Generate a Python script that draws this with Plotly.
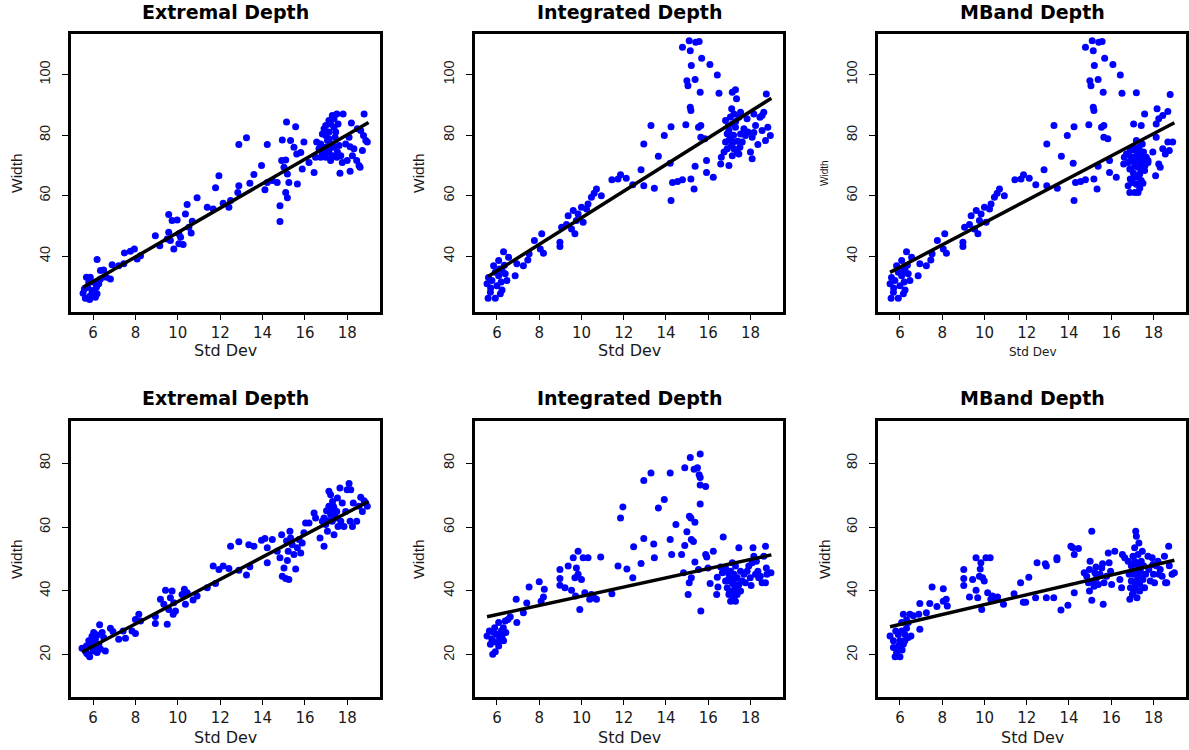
import plotly.graph_objects as go

# ---------------- data ----------------
# Top-left: Extremal Depth (row 1)
ext1_x = [5.64,5.84,5.53,5.75,5.95,6.19,6.11,5.87,5.69,6.03,
          6.27,6.35,6.50,6.19,6.35,6.16,5.80,5.59,5.87,6.08,
          6.63,6.82,6.90,7.21,7.45,7.48,7.76,7.95,8.08,8.24,
          8.94,9.15,9.57,9.50,9.65,9.81,9.57,9.73,9.97,10.05,
          10.13,10.05,10.25,10.36,10.44,10.52,10.63,10.68,10.91,11.39,
          11.67,11.94,11.78,12.14,12.41,12.49,12.83,12.88,12.88,13.24,
          13.40,13.59,13.95,14.11,14.22,14.22,14.46,14.69,14.82,14.82,
          14.90,14.93,15.01,15.09,15.13,15.17,15.09,15.17,15.24,15.32,
          15.48,15.56,15.61,15.64,15.80,15.95,15.87,16.19,16.43,16.50,
          16.55,16.74,16.82,16.90,16.98,17.06,17.13,17.21,17.29,17.37,
          17.42,17.50,17.13,17.21,17.29,17.37,17.50,16.90,16.74,17.56,
          17.61,17.65,17.76,17.80,17.92,17.99,18.08,18.13,18.13,18.19,
          18.24,18.31,18.44,18.47,18.55,18.63,18.71,18.79,18.76,18.87,
          18.94,18.60,16.98,17.13,17.29,17.45,16.98,17.21,17.53,17.69,
          16.82,16.66,17.13,17.37,16.98]
ext1_y = [26.1,25.7,27.8,29.8,28.7,27.6,26.5,33.1,33.1,31.4,
          30.9,35.3,35.5,38.9,32.5,29.8,31.4,29.2,27.0,28.1,
          33.1,32.5,37.2,36.9,37.5,41.1,41.7,42.4,39.1,40.2,
          46.8,43.5,47.9,45.7,45.2,42.4,53.8,51.8,52.0,47.4,
          46.3,44.1,43.9,54.0,57.1,49.6,47.7,51.6,59.3,56.2,
          55.6,66.6,62.6,57.5,56.2,58.4,61.1,63.3,76.9,79.1,
          64.1,67.0,70.0,62.0,76.9,64.4,65.0,64.4,56.7,51.5,
          71.6,78.4,69.4,71.8,84.3,67.2,61.1,59.3,64.4,78.2,
          76.0,82.8,73.8,63.9,74.3,77.7,68.8,71.0,67.7,72.7,
          77.7,72.7,80.4,82.1,76.0,78.2,81.0,83.7,86.5,82.6,
          79.3,87.0,74.4,71.6,73.2,76.0,72.7,74.4,77.1,83.7,
          76.6,67.4,71.0,87.0,77.1,71.6,79.3,76.2,68.1,84.0,
          73.2,75.5,71.6,82.1,70.0,81.5,74.9,87.0,79.9,78.2,
          77.7,69.4,79.9,78.8,77.1,81.0,72.7,76.0,74.4,73.2,
          73.8,75.5,84.8,85.4,83.2]

# Row 1, Integrated & MBand share the points below Std Dev ~16.6
top_shared_x = [5.58,5.92,5.69,5.53,5.76,6.0,6.16,6.24,5.84,6.08,
                6.31,6.24,6.39,6.47,6.08,5.92,6.55,6.86,6.94,7.25,
                7.46,7.52,7.77,8.12,8.05,8.20,8.98,8.98,9.06,9.29,
                9.37,9.53,9.61,9.69,9.76,9.84,10.0,10.08,10.24,10.31,
                10.47,10.6,10.71,10.94,11.44,11.73,11.85,12.12,12.43,12.82,
                12.95,12.95,13.29,13.45,13.64,13.92,14.2,14.24,14.24,14.31,
                14.55,14.78,14.94,14.78,14.99,15.04,15.1,15.15,15.2,15.15,
                15.18,15.18,15.33,15.38,15.38,15.41,15.54,15.62,15.65,15.65,
                15.57,15.69,15.84,15.92,15.92,16.08,16.24,16.43,16.51,16.59,
                16.62,6.20,5.70,6.35,6.12,5.60]
top_shared_y = [26.1,26.1,28.1,30.9,32.0,30.3,27.6,28.9,36.9,38.6,
                41.5,35.3,34.2,32.0,33.6,34.7,39.7,33.6,37.5,36.9,
                38.8,40.8,45.2,47.4,42.4,41.0,44.6,43.2,49.6,50.5,
                53.4,49.0,55.1,47.4,51.8,54.0,56.2,51.2,55.6,57.3,
                59.5,60.8,62.2,60.0,65.3,65.5,66.9,65.8,63.6,68.6,
                63.3,77.1,83.2,62.5,73.0,79.9,70.7,82.8,58.4,64.4,
                64.7,65.3,83.4,109.0,98.0,96.3,111.2,107.9,103.0,89.2,
                88.1,65.5,62.2,98.4,69.7,110.7,82.6,94.2,83.2,79.3,
                110.9,105.4,78.8,71.6,67.7,103.3,66.1,99.9,93.8,70.5,
                72.7,31.5,29.5,37.0,35.8,33.0]

int1_tail_x = [16.82,16.98,17.06,16.98,17.11,17.14,17.29,17.34,17.22,17.37,
               17.45,17.14,17.29,17.45,17.53,17.61,17.53,16.82,16.90,16.75,
               17.22,17.14,17.69,17.76,17.84,17.88,18.0,18.08,18.08,18.16,
               18.24,18.35,18.45,18.55,18.63,18.71,18.75,18.82,18.94,18.55,
               18.16,17.0,17.2,17.4,17.1,16.9,17.3,17.5,17.2,17.05,
               16.95]
int1_tail_y = [84.8,81.5,79.3,70.0,88.7,94.2,95.0,92.0,75.5,74.4,
               73.8,73.2,82.6,85.9,80.4,77.7,87.6,77.7,75.5,74.4,
               87.0,83.7,82.1,79.9,85.4,81.0,74.4,72.2,79.3,87.0,
               83.2,76.9,85.9,81.5,87.6,78.2,93.6,82.6,79.9,86.5,
               80.9,78.5,80.0,78.0,76.5,80.5,84.5,76.0,77.8,86.0,
               83.0]

mb1_tail_x = [16.72,16.80,16.88,16.95,17.03,17.03,17.11,17.11,17.19,17.19,
              17.19,17.27,17.27,17.35,17.35,17.42,17.42,17.50,17.50,17.58,
              17.66,17.74,16.88,16.95,16.80,16.91,17.31,17.47,17.11,17.27,
              17.00,17.53,17.19,17.06,17.42,17.58,17.74,18.10,17.97,18.13,
              18.13,18.17,18.25,18.44,18.68,18.44,18.56,18.32,18.25,18.79,
              18.75,18.91,18.68,17.15,17.25,17.40,17.05,16.90,17.35,17.60,
              17.45]
mb1_tail_y = [73.8,63.3,61.1,68.8,76.0,71.6,66.1,61.1,78.2,73.2,
              63.8,61.1,69.4,70.5,67.2,74.4,65.0,64.1,71.6,68.3,
              72.7,71.6,68.8,72.7,71.0,74.9,76.0,77.1,70.0,66.1,
              64.4,74.4,94.0,83.7,83.2,87.0,71.0,66.6,74.4,79.3,
              83.7,88.7,85.4,86.5,87.8,75.5,73.8,69.4,70.5,93.4,
              74.9,77.7,77.7,75.0,72.0,69.0,67.5,65.5,62.5,70.0,
              72.5]

# Row 2: Extremal Depth
ext2_x = [5.48,5.64,5.75,5.84,5.91,6.03,6.11,6.00,6.19,6.27,
          6.31,6.43,6.35,6.50,6.58,5.80,5.69,6.11,6.82,6.94,
          7.21,7.42,7.53,7.84,8.00,8.00,8.16,8.24,8.94,8.94,
          9.18,9.42,9.34,9.50,9.57,9.65,9.73,9.78,9.81,9.89,
          10.20,10.31,10.36,10.44,10.72,10.91,11.39,11.67,11.78,11.94,
          12.14,12.41,12.49,12.88,12.88,13.24,13.35,13.40,13.59,13.95,
          14.11,14.22,14.22,14.46,14.69,14.82,14.90,14.93,15.01,15.09,
          15.13,15.17,15.21,15.24,15.29,15.32,15.40,15.48,15.56,15.64,
          15.72,15.80,15.87,15.95,16.03,16.19,16.43,16.50,16.71,16.82,
          16.90,17.02,17.13,17.21,17.13,17.21,17.29,17.34,17.37,17.45,
          17.50,17.56,17.65,17.69,17.76,16.90,16.98,17.06,17.37,17.53,
          17.92,17.99,18.08,18.13,18.16,18.24,18.28,18.44,18.55,18.63,
          18.71,18.79,18.87,18.94,17.84,5.95,6.20,5.70,6.05,17.25,
          17.40,17.10,17.30]
ext2_y = [22.1,21.2,20.2,19.4,23.1,27.0,24.9,21.2,20.7,23.3,
          29.4,27.0,21.8,25.4,21.2,24.4,22.8,22.8,28.3,27.3,
          24.9,27.5,25.2,27.5,26.7,31.1,32.7,30.6,32.0,29.8,
          37.4,40.2,35.8,29.6,34.2,37.9,40.0,32.7,36.3,33.7,
          38.9,40.5,35.8,39.4,37.2,38.4,41.0,47.8,42.3,46.7,
          47.8,47.0,54.0,55.4,46.5,45.0,54.5,47.6,54.0,55.9,
          56.4,48.8,53.5,56.1,52.4,50.4,57.6,44.6,47.2,43.9,
          55.6,49.5,52.4,43.6,58.7,56.6,54.5,51.4,46.9,53.5,
          56.1,51.9,55.0,58.2,61.3,61.3,64.4,62.8,56.6,61.8,
          54.0,65.1,71.2,70.1,66.5,63.9,61.8,66.5,57.6,62.8,
          64.9,60.2,72.2,61.8,67.5,62.8,60.8,58.7,66.0,69.1,
          64.9,71.7,73.6,61.8,71.7,60.2,67.5,61.8,66.5,69.3,
          64.9,68.2,67.5,66.5,60.2,25.8,26.2,20.5,23.8,65.5,
          63.5,62.0,68.0]

# Row 2: Integrated Depth
int2_x = [5.53,5.64,5.76,5.80,5.92,5.89,6.0,6.08,6.11,6.20,
          6.24,6.31,6.39,6.42,6.52,5.69,6.08,5.84,6.63,6.91,
          6.94,7.25,7.41,7.52,8.0,8.09,8.20,8.24,8.98,8.98,
          8.98,9.22,9.37,9.53,9.61,9.69,9.72,9.76,9.84,9.84,
          9.92,10.0,10.08,10.16,10.31,10.39,10.47,10.60,10.71,10.91,
          11.44,11.73,11.85,11.96,12.15,12.43,12.47,12.82,12.95,12.95,
          13.29,13.42,13.45,13.64,13.92,14.20,14.20,14.27,14.47,14.74,
          14.83,14.89,14.89,14.99,15.05,15.10,15.11,15.15,15.18,15.20,
          15.20,15.30,15.33,15.37,15.37,15.49,15.54,15.57,15.62,15.62,
          15.62,15.62,15.65,15.88,15.88,15.93,15.99,16.09,16.24,16.40,
          16.43,16.46,16.71,16.59,16.67,16.82,16.90,16.98,16.98,17.06,
          17.06,17.14,17.14,17.22,17.22,17.29,17.29,17.37,17.37,17.45,
          17.45,17.53,17.53,17.61,17.69,17.76,16.90,17.22,17.06,16.82,
          17.29,17.84,17.92,17.99,18.03,18.12,18.16,18.24,18.28,18.35,
          18.39,18.47,18.55,18.63,18.71,18.75,18.78,18.71,18.97,18.08,
          17.0,17.15,17.3,17.1,17.4,16.95,17.25,6.1,5.95,6.3]
int2_y = [25.9,27.5,24.9,20.2,21.0,28.5,26.4,30.1,24.4,27.5,
          25.4,24.4,30.6,27.0,31.1,23.3,22.8,27.0,31.9,37.4,
          30.1,33.2,36.2,41.2,42.9,36.8,38.1,40.5,46.7,43.9,
          41.8,41.0,47.8,40.2,50.4,44.1,38.4,47.2,52.4,45.2,
          34.2,43.6,50.4,39.4,50.4,37.4,38.9,37.9,37.4,50.6,
          39.1,47.8,62.8,66.3,46.9,44.1,53.8,48.6,56.4,74.6,
          76.9,54.7,50.4,66.0,68.6,56.1,76.9,51.4,60.8,51.4,
          45.7,54.2,78.6,58.5,38.9,42.6,63.4,81.8,62.8,56.1,
          44.1,55.5,78.1,49.1,61.5,78.6,46.7,76.4,75.5,73.2,
          67.2,82.9,33.7,72.7,51.4,50.6,47.2,42.3,52.4,38.9,
          44.3,41.2,56.9,47.5,45.7,47.2,41.0,38.9,45.2,36.8,
          43.1,48.8,40.0,37.9,45.2,41.0,47.8,38.9,44.1,53.5,
          42.0,46.2,40.0,43.1,45.2,42.6,46.2,42.0,46.2,43.1,
          36.8,46.2,47.8,44.1,41.7,53.5,50.9,45.2,49.3,46.2,
          44.1,44.6,42.6,50.9,54.0,47.2,45.2,42.6,45.7,48.8,
          39.5,42.5,39.0,44.5,40.5,43.5,43.8,26.0,24.0,28.5]

# Row 2: MBand Depth
mb2_x = [5.53,5.69,5.69,5.77,5.84,5.92,6.0,6.0,6.08,6.08,
         6.16,6.23,6.31,6.31,6.39,6.47,6.52,5.89,5.80,6.16,
         6.23,6.39,6.63,6.94,6.94,6.89,7.25,7.41,7.52,7.75,
         8.05,8.05,8.19,8.24,9.02,9.02,9.02,9.29,9.44,9.60,
         9.60,9.68,9.76,9.80,9.83,9.87,9.91,9.99,10.07,10.15,
         10.27,10.30,10.38,10.49,10.62,10.90,11.40,11.71,11.84,11.95,
         12.10,12.42,12.49,12.88,12.93,12.93,13.28,13.43,13.43,13.62,
         13.95,14.09,14.18,14.25,14.25,14.45,14.72,14.84,14.92,14.97,
         14.97,15.0,15.08,15.08,15.16,15.19,15.23,15.28,15.31,15.39,
         15.47,15.55,15.59,15.62,15.66,15.78,15.86,15.90,15.97,16.02,
         16.17,16.41,16.49,16.53,16.64,16.80,16.85,16.88,16.91,16.95,
         16.95,17.0,17.03,17.06,17.11,17.11,17.16,17.19,17.19,17.19,
         17.22,17.27,17.27,17.31,17.35,17.35,17.38,17.42,17.47,17.50,
         17.53,17.58,17.63,17.74,17.78,17.85,17.94,18.0,18.05,18.13,
         18.21,18.25,18.32,18.41,18.52,18.57,18.63,18.72,18.75,18.88,
         18.99,17.97,17.11,17.42,17.05,17.25,17.15,17.4,6.1,5.95]
mb2_y = [25.9,24.4,22.3,19.4,20.7,26.4,19.4,24.4,27.5,30.1,
         32.7,24.4,28.3,30.9,25.4,32.7,25.9,22.3,27.5,23.3,
         26.4,30.1,32.2,28.0,36.1,32.7,33.2,36.1,41.2,35.1,
         40.7,36.8,37.4,35.3,46.7,43.9,41.7,38.1,43.6,50.4,
         40.2,37.9,44.6,46.9,48.8,34.2,44.1,43.1,50.4,39.4,
         50.4,37.4,38.4,37.7,38.1,35.8,39.1,42.6,36.5,36.5,
         44.3,37.9,48.8,48.5,37.9,47.8,37.9,50.4,49.8,34.0,
         35.5,54.0,53.5,51.4,39.4,53.3,45.7,44.6,42.6,46.7,
         40.0,49.3,58.7,37.1,43.1,41.5,45.7,47.5,44.1,42.0,
         45.2,47.2,48.5,35.8,42.6,44.6,51.9,48.8,46.2,42.0,
         52.4,43.6,41.0,51.4,50.4,49.3,45.2,37.4,41.0,47.9,
         43.1,38.9,50.9,45.2,53.5,41.0,58.7,57.1,48.3,43.1,
         37.9,51.4,44.6,55.0,42.0,40.0,46.2,49.3,52.4,43.6,
         47.9,41.0,45.2,50.9,46.7,43.1,50.4,45.2,42.6,47.9,
         49.3,45.2,46.7,44.6,50.9,42.6,42.6,54.0,47.9,45.2,
         45.7,48.3,49.3,44.1,39.5,46.0,42.0,47.5,21.5,23.0]

# Fitted regression lines (end points)
fit_x = {
    "ext1": [5.53, 19.0], "int1": [5.58, 18.99], "mb1": [5.53, 18.99],
    "ext2": [5.48, 18.99], "int2": [5.53, 18.99], "mb2": [5.53, 18.99],
}
fit_y = {
    "ext1": [29.8, 84.2], "int1": [33.3, 92.2], "mb1": [34.7, 84.1],
    "ext2": [20.9, 68.0], "int2": [31.9, 51.3], "mb2": [28.8, 49.6],
}

titles = ["Extremal Depth", "Integrated Depth", "MBand Depth"]
x_ticks = [6, 8, 10, 12, 14, 16, 18]
y_ticks_top = [40, 60, 80, 100]
y_ticks_bottom = [20, 40, 60, 80]
x_label = "Std Dev"
y_label = "Width"

# ---------------- figure ----------------
W, H = 1189, 750
panels = [
    ("ext1", ext1_x, ext1_y),
    ("int1", top_shared_x + int1_tail_x, top_shared_y + int1_tail_y),
    ("mb1", top_shared_x + mb1_tail_x, top_shared_y + mb1_tail_y),
    ("ext2", ext2_x, ext2_y),
    ("int2", int2_x, int2_y),
    ("mb2", mb2_x, mb2_y),
]

# plot-box pixel edges (left, right) per column and (top, bottom) per row
col_px = [(71, 380), (475, 783), (878, 1186)]
row_px = [(34, 312), (421, 697)]

fig = go.Figure()
layout = dict(
    width=W, height=H, margin=dict(l=0, r=0, t=0, b=0),
    paper_bgcolor="white", plot_bgcolor="white", showlegend=False,
    font=dict(family="DejaVu Sans", color="#1a1a1a"),
)
annotations = []

for i, (key, xs, ys) in enumerate(panels):
    r, c = divmod(i, 3)
    n = i + 1
    xa = "x" if n == 1 else f"x{n}"
    ya = "y" if n == 1 else f"y{n}"
    fig.add_trace(go.Scatter(x=xs, y=ys, mode="markers",
                             marker=dict(color="#0000ff", size=7, line=dict(width=0)),
                             xaxis=xa, yaxis=ya, hoverinfo="skip"))
    fig.add_trace(go.Scatter(x=fit_x[key], y=fit_y[key], mode="lines",
                             line=dict(color="black", width=3.5),
                             xaxis=xa, yaxis=ya, hoverinfo="skip"))
    l, rr = col_px[c]
    t, b = row_px[r]
    xdom = [l / W, rr / W]
    ydom = [1 - b / H, 1 - t / H]
    yr = [21.6, 113.4] if r == 0 else [6.8, 93.2]
    ytv = y_ticks_top if r == 0 else y_ticks_bottom
    layout["xaxis" if n == 1 else f"xaxis{n}"] = dict(
        domain=xdom, anchor=ya, range=[4.96, 19.54], tickvals=x_ticks,
        showgrid=False, zeroline=False, showline=True, mirror=True,
        linecolor="black", linewidth=3, ticks="outside", ticklen=5,
        tickwidth=1.2, tickcolor="black", ticklabelstandoff=0,
        tickfont=dict(family="DejaVu Sans", size=15, color="#1a1a1a"),
    )
    layout["yaxis" if n == 1 else f"yaxis{n}"] = dict(
        domain=ydom, anchor=xa, range=yr, tickvals=ytv,
        showgrid=False, zeroline=False, showline=True, mirror=True,
        linecolor="black", linewidth=3, ticks="outside", ticklen=6,
        tickwidth=1.2, tickcolor="black", tickangle=-90, ticklabelstandoff=6,
        tickfont=dict(family="Liberation Sans", size=14.5, color="#1a1a1a"),
    )
    cx = (l + rr) / 2 / W
    # panel title
    annotations.append(dict(
        text=f"<b>{titles[c]}</b>", x=cx, y=1 - (12 if r == 0 else 398) / H,
        xref="paper", yref="paper", showarrow=False, xanchor="center", yanchor="middle",
        font=dict(family="DejaVu Sans", size=19, color="black")))
    small = (r == 0 and c == 2)
    # x label
    annotations.append(dict(
        text=x_label, x=cx, y=1 - ((352 if small else 350) if r == 0 else 737.5) / H,
        xref="paper", yref="paper", showarrow=False, xanchor="center", yanchor="middle",
        font=dict(family="DejaVu Sans", size=12 if small else 16, color="#1a1a1a")))
    # y label
    ylx = [16, 418, 824][c]
    annotations.append(dict(
        text=y_label, x=ylx / W, y=1 - ((t + b) / 2) / H, textangle=-90,
        xref="paper", yref="paper", showarrow=False, xanchor="center", yanchor="middle",
        font=dict(family="Liberation Sans", size=10 if small else 15.5, color="#1a1a1a")))

layout["annotations"] = annotations
fig.update_layout(**layout)
fig.write_html("out.html")
